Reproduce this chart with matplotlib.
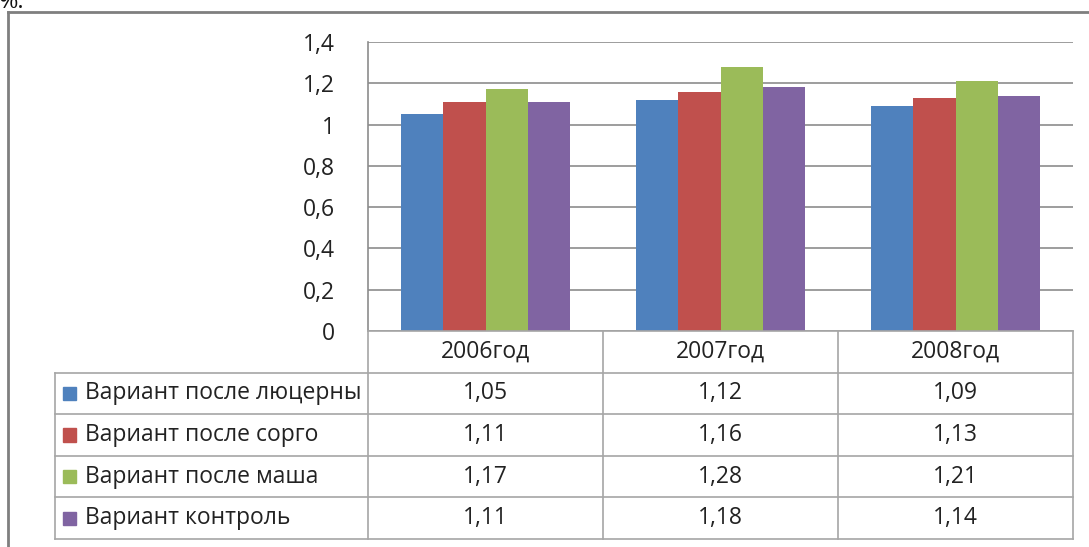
import matplotlib.pyplot as plt
from matplotlib.lines import Line2D
from matplotlib.patches import Rectangle

plt.rcParams['font.family'] = ['Open Sans', 'DejaVu Sans']

years = ['2006год', '2007год', '2008год']
series_names = ['Вариант после люцерны', 'Вариант после сорго',
                'Вариант после маша', 'Вариант контроль']
lucerne = [1.05, 1.12, 1.09]
sorghum = [1.11, 1.16, 1.13]
mung = [1.17, 1.28, 1.21]
control = [1.11, 1.18, 1.14]
series = [lucerne, sorghum, mung, control]
colors = ['#4F81BD', '#C0504D', '#9BBB59', '#8064A2']
yticks = [0, 0.2, 0.4, 0.6, 0.8, 1.0, 1.2, 1.4]

W, H = 1089, 547
fig = plt.figure(figsize=(W / 100, H / 100), dpi=100)

def fx(px):
    return px / W

def fy(py):
    return 1 - py / H

# plot area geometry in pixels
left, right, top, base = 368, 1073, 42, 331
row_h = 41.6
leg_left = 55

ax = fig.add_axes([fx(left), fy(base), fx(right) - fx(left), fy(top) - fy(base)])
n = len(series)
group_w = 0.72
bw = group_w / n
for i, (vals, c) in enumerate(zip(series, colors)):
    xs = [k - group_w / 2 + bw * (i + 0.5) for k in range(len(years))]
    ax.bar(xs, vals, width=bw, color=c, edgecolor='none', zorder=3)

ax.set_xlim(-0.5, len(years) - 0.5)
ax.set_ylim(0, 1.4)
ax.set_yticks(yticks)
ax.set_yticklabels([('%g' % t).replace('.', ',') for t in yticks], fontsize=16.5, color='#222222')
ax.tick_params(axis='y', length=0, pad=24)
ax.set_xticks([])
ax.grid(axis='y', color='#8c8c8c', linewidth=1.2, zorder=0)
for s in ['top', 'right', 'bottom']:
    ax.spines[s].set_visible(False)
ax.spines['left'].set_color('#8c8c8c')
ax.spines['left'].set_linewidth(1.2)

# data table below the bars
n_rows = len(series) + 1
tab = fig.add_axes([fx(leg_left), fy(base + row_h * n_rows), fx(right) - fx(leg_left),
                    fy(base) - fy(base + row_h * n_rows)])
cat_w = (right - left) / len(years)
leg_span = (left - leg_left) / cat_w
tab.set_xlim(-0.5 - leg_span, len(years) - 0.5)
tab.set_ylim(n_rows, 0)
tab.axis('off')

line_c = '#a6a6a6'
# horizontal lines
tab.plot([-0.5, len(years) - 0.5], [0, 0], color=line_c, lw=1.2, clip_on=False)
for r in range(1, n_rows + 1):
    tab.plot([-0.5 - leg_span, len(years) - 0.5], [r, r], color=line_c, lw=1.2, clip_on=False)
# vertical lines
tab.plot([-0.5 - leg_span] * 2, [1, n_rows], color=line_c, lw=1.2, clip_on=False)
for k in range(len(years) + 1):
    tab.plot([k - 0.5] * 2, [0, n_rows], color=line_c, lw=1.2, clip_on=False)

for k, y in enumerate(years):
    tab.text(k, 0.5, y, ha='center', va='center', fontsize=16.5, color='#222222')
for r, (name, vals, c) in enumerate(zip(series_names, series, colors), start=1):
    for k, v in enumerate(vals):
        tab.text(k, r + 0.5, ('%.2f' % v).replace('.', ','), ha='center', va='center',
                 fontsize=16.5, color='#222222')
    sq = 13 / cat_w
    tab.add_patch(Rectangle((-0.5 - leg_span + 8 / cat_w, r + 0.5 - 0.16), sq, 0.32,
                            color=c, clip_on=False))
    tab.text(-0.5 - leg_span + 30 / cat_w, r + 0.5, name, ha='left', va='center',
             fontsize=16.5, color='#222222')

# outer chart frame and the clipped caption fragment above it
fig.add_artist(Line2D([fx(8), 1], [fy(12), fy(12)], color='#7f7f7f', lw=2))
fig.add_artist(Line2D([fx(8), fx(8)], [fy(12), 0], color='#7f7f7f', lw=2))
fig.text(fx(-1), fy(8), '%.', fontsize=17, ha='left', va='baseline', color='#111111')

fig.savefig('out.png', dpi=100)
